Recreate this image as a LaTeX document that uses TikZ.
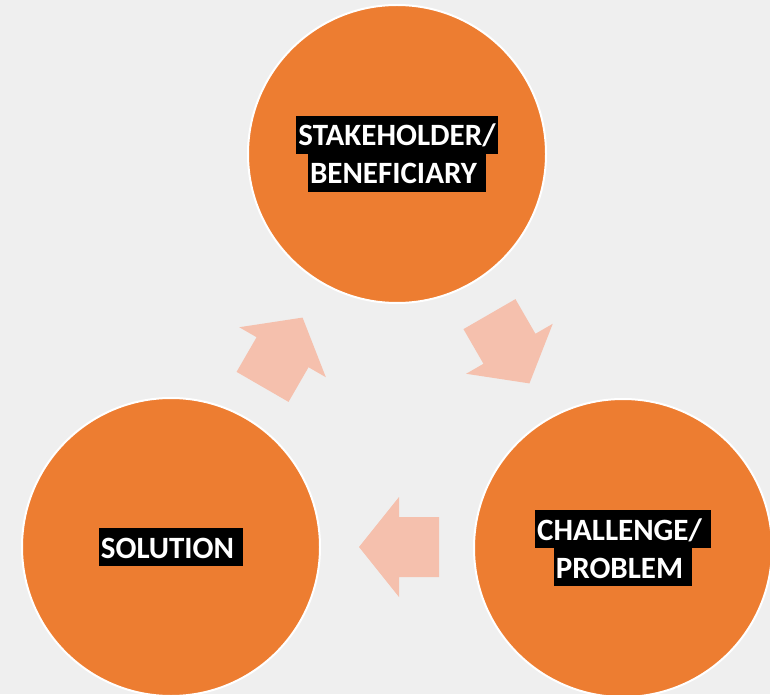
\documentclass[tikz,border=0pt]{standalone}
\usepackage{fontspec}
\setmainfont{Carlito}
\definecolor{bggray}{HTML}{EFEFEF}
\definecolor{stageorange}{HTML}{ED7D31}
\definecolor{flowpink}{HTML}{F5C0AD}
\newcommand{\hlbox}[1]{{\setlength{\fboxsep}{0pt}\colorbox{black}{\kern2pt\rule[-8pt]{0pt}{38pt}#1\kern2pt}}}

\begin{document}
\begin{tikzpicture}[x=1pt,y=1pt]
   \tikzset{stage/.style = {circle, fill=stageorange, draw=white, line width=2pt, minimum size=298pt, inner sep=0pt, align=center, text=white, font=\fontsize{31}{38}\selectfont\bfseries}, }
   \tikzset{flow/.style = {fill=flowpink, draw=none} }
   \path[use as bounding box, fill=bggray] (0,0) rectangle (770,694);

   \node[stage] (stake) at (397,540) {\hlbox{STAKEHOLDER/}\\\hlbox{BENEFICIARY\ }};
   \node[stage] (problem) at (623,146) {\hlbox{CHALLENGE/\ }\\\hlbox{PROBLEM\ }};
   \node[stage] (solution) at (171,147) {\hlbox{SOLUTION\ }};

   % cycle arrows
   \coordinate (hub) at (397,278);
   \foreach \ang in {0,-120,120}
     \fill[flow, rotate around={\ang:(hub)}]
       (359,147) -- (399,197) -- (399,177) -- (439,177) -- (439,117) -- (399,117) -- (399,97) -- cycle;

\end{tikzpicture}
\end{document}
